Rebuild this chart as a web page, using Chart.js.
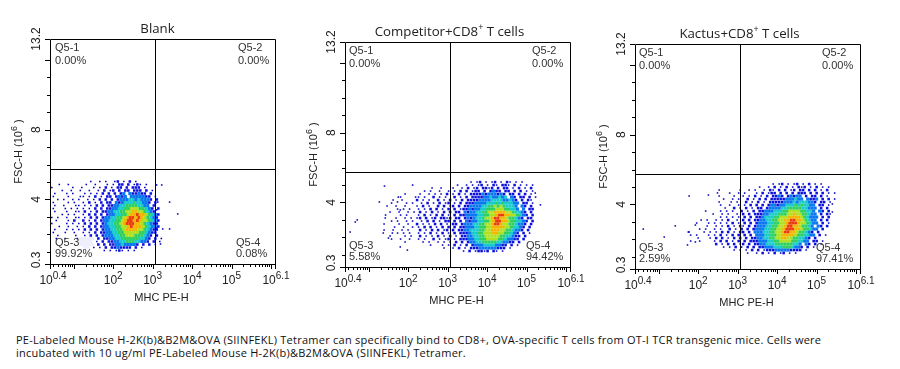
<!DOCTYPE html>
<html>
<head>
<meta charset="utf-8">
<title>MHC PE-H flow plots</title>
<script src="https://cdn.jsdelivr.net/npm/chart.js@4/dist/chart.umd.min.js"></script>
<style>
  html, body { margin: 0; padding: 0; background: #fff; }
  body { width: 900px; height: 369px; position: relative; overflow: hidden; }
  canvas { position: absolute; }
  .caption { position: absolute; left: 16px; top: 334px; font: 11px/12.5px "Open Sans", sans-serif; letter-spacing: 0.25px; color: #111; white-space: nowrap; }
</style>
</head>
<body>
<canvas id="blankChart" width="290" height="304" style="left:0;top:0"></canvas>
<canvas id="competitorChart" width="290" height="304" style="left:295px;top:3px"></canvas>
<canvas id="kactusChart" width="290" height="304" style="left:585px;top:5px"></canvas>
<div class="caption">
  <div>PE-Labeled Mouse H-2K(b)&amp;B2M&amp;OVA (SIINFEKL) Tetramer can specifically bind to CD8+, OVA-specific T cells from OT-I TCR transgenic mice. Cells were</div>
  <div>incubated with 10 ug/ml PE-Labeled Mouse H-2K(b)&amp;B2M&amp;OVA (SIINFEKL) Tetramer.</div>
</div>
<script>
// axis values
const xLabelExps = ['0.4', '2', '3', '4', '5', '6.1'];
const xMajorExps = [0.4, 1, 2, 3, 4, 5, 6, 6.1];
const yMajor = [4, 8, 12];
const yMinor = [1, 2, 3, 5, 6, 7, 9, 10, 11];
const yLabels = ['0.3', '4', '8', '13.2'];
const xRange = [0.4, 6.1];
const yRange = [0.3, 13.2];

// gates
const gateX = 1120;
const gateY = 5.75;

const panelTitles = [['Blank', '', ''], ['Competitor+CD8', '+', ' T cells'], ['Kactus+CD8', '+', ' T cells']];
const q1Pct = ['0.00%', '0.00%', '0.00%'];
const q2Pct = ['0.00%', '0.00%', '0.00%'];
const q3Pct = ['99.92%', '5.58%', '2.59%'];
const q4Pct = ['0.08%', '94.42%', '97.41%'];

// density, one string per FSC row, one char per MHC bin
// 1-8 = blue to red, a = the pale halo around the Q5-3 label
// left of | is the sparse tail, right of | starts at a fixed bin (the *Split value)
const binX = 0.076;
const binY = 0.172;

const blankStart = [0.37, 5.03];
const blankSplit = 10;
const blankGrid = [
  '|    1  1 1  12 1 2 1   ',
  '   1  1   |  1  1   1 1 22 2 121 1',
  ' 1      1 | 1   1 1 2 1 22 2 222 1 ',
  '    1  1  |1  1  1 2 12 2 22 222 2 1',
  '  1   1 1 |  1 1 1 2 2 2 23 322322 2',
  ' 1    1   1| 1 1 2 1 22 2323 3333322 1',
  '   1 1  1 |1  1 1 2 2 2 233344343332 2',
  ' 1    1 1 | 1 2 1 2 22 323444544332 2',
  '  1  1   1|1 1 1 2 2 22334455554433 2',
  ' 1   1 1 1| 1 1 2 2 2233445566655432 2',
  '1 1   1  1|1 2 1 2 223344556677665432',
  '1   1 1 1 | 1 2 2 2 233445567787765432',
  ' 1 1  1  1|1 1 2 2 2334455678878765432',
  '  1   1 2 | 2 1 2 23344556788787665432',
  ' 1    1 1 |1 2 2 2 2344556788877654322',
  '1  1  1  1| 1 2 2 23344556678777654332',
  '  1   1 1 |1 2 2 2 2334455677776654322',
  ' 1   1  1 | 1 1 2 2233445566666554322',
  '   1     1|  1 2 2 23334455666555432 2',
  '  1  1   1|aaaaa 2 2233445555554432 2 1',
  '          |aaaaa 1 2 22334455544332 2 1',
  '          |aaaaa 2 2 2233433332 2 2 1',
  '          |  aa 1 1 2 2232222 2 1',
  '          |        1 1 121 1 1'
];
const blankOutX = [3.1, 3.23, 3.43, 3.635, 3.13, 3.1, 3.43, 3.255, 3.1, 3.2];
const blankOutY = [4.83, 4.83, 3.85, 3.17, 3.85, 3.4, 2.31, 2.31, 2.36, 1.45];

const competitorStart = [1.39, 5.17];
const competitorSplit = 11;
const competitorGrid = [
  '|                  1 12 1 12 1 21 1 1',
  '         1|             1  1 1 12 1 21 221 2 1 1 1',
  '|     1  1   1  1 2 12 2212 2 22 1 2 1 2',
  '|  1 1  1  1 1 2 2 122 2 2322 22 2 2 1 1',
  '       1  | 1  1 1 1 2 1 2 1 222232333232 22 2 2 1',
  '     1    1|1 1  2 1 1  2 1 2 222233433434 32 22 2 1',
  '   1  1  |2 1 1  2 1 2 1 2 22223333444433432 2 21',
  '  1    1 1| 1 2 1 2 12 1 2 222333344454544433 22 1',
  ' 1  1  1 |1 2 1  2 2 12 2 223333445565654443 32 2',
  '    1 1 1|1 1 2 2 1 2 2 12232334455566655443 3 22',
  '  1  1  1 1| 2 1 2 1 2 2 22 323344556677776654432 2',
  '1    1 1  |1 2 1 2 2 1 2 22333344556678877665432 2',
  '    1  1 1 |12 2 12 2212 22 23234456678877655432 22',
  '  1 1  1 1| 1 2 2 1 22 2 2 323344556788776554432 2',
  '1    1  1 |2 1 1 2 2 1 22 2333445566788766554332 2',
  '   1  1  1|1 2 2 1 2 2 2 2233344556677776654432 2',
  '1  1  1 1 | 2 1 2 2 12 2 2233444556677766554332 2',
  '    1 1 1 |1 1 2 1 2 1 2 22234455666776655432 2 1',
  '  1    1 1| 2 1 1 2 1 2 1 22334455666665544322 2',
  '  1  1  1 |1 1  2 1 12 1 22233445566665543322 2',
  '       1  |  1 1  1 1 1 2 2 2334455555443322 2',
  '|    1   1 1 2 1 2 233344443322 2 1',
  '|         1  1 2 1 222333333222 1',
  '|               1 2 12212 21 1'
];
const competitorOutX = [1.4, 1.27, 1.73, 1.75, 0.66, 0.71, 0.53, 1.42, 1.37, 1.5, 1.6, 1.8, 1.8, 1.98, 5.35, 5.22];
const competitorOutY = [4.94, 4.03, 4.03, 4.31, 2.88, 3, 2.31, 3.11, 2.25, 1.96, 2.25, 3.57, 1.45, 1.27, 3.86, 4.54];

const kactusStart = [1.62, 5.17];
const kactusSplit = 10;
const kactusGrid = [
  '|                    1 12 1 12 1 2 1 1',
  '|               1  1 2 1 2 1 212 1 2 1 1',
  '|  1      1  1 1  1 21 2 2 12 22 2 2 1 2',
  '|     1  1 1   1 2 122 2 2 2 222 2 2 2 1 1',
  '  1       |  1    1  1 1 2 1 2 2232 23233 2 22 2 1',
  '|   1  1 1  2 1 2 2 22222333433 3223 2 2 1',
  '|  1   1 1  2 1 2 1 2222233343444332 22 1',
  '|  1  1  1 1 2 2 2 2332334445454433 22 1',
  '|    1  2 1 2 1 22 23333445555544333 2 2',
  '       1  |  1 1 1  2 1 2 2233344455666655443 32 2',
  '|1  1 1  1 2 2 222334445556676655433 2 21',
  '|  1 1 1 1 2 2 223444556667777654333 2 2',
  '      1 1 | 1 1 2  1 2 2 223344556677887765433 2 2',
  '    1   1 |1 1 1 2 1 2 2 233344556678887665433 2 1',
  '        1 | 1 1 2 1 21 2 23334455667887765543 32 2',
  '     1 1  |1 1  2 1 2 2 2333445566788877655433 2',
  '  1    1 1| 1 2 2 1 22 2 33344556678877655432 2',
  '  1 1   1 |1 2 1 2 2 2 2 33344556677776554433 2 1',
  '     1   1| 2 2 1 2 2 2 22334455667766554432 2',
  '  1  1    |1 2 2 1 2 2 22233344556666554433 22 1',
  '          | 2 1 2 2 12 2 2233444555555443 32 2 1',
  '          |   1 1 2 1 2 2 223334445554332 2 1',
  '          |       1 1 1 2 2 1222333332222 1',
  '          |           1  1 2 1 2 12 1 1'
];
const kactusOutX = [0.61, 1.42, 1.14, 1.75, 1.73, 1.93, 1.93, 5.4, 5.4, 2.26, 2.49];
const kactusOutY = [2.59, 2.77, 2.13, 2.42, 1.68, 2.82, 1.85, 4.03, 3.57, 4.54, 4.66];

const levelKeys = ['a', '1', '2', '3', '4', '5', '6', '7', '8'];
const levelColors = ['#eeeefc', '#0000c4', '#0c10dc', '#0a78ee', '#18cccc', '#30d060', '#b0e020', '#f4b400', '#e83c10'];
const levelRadius = [2.2, 1.1, 1.8, 2.2, 2.2, 2.2, 2.2, 2.2, 2.2];

const FONT = '"Liberation Sans", Arial, sans-serif';
const TITLE_FONT = '"Open Sans", sans-serif';
const INK = '#222';

function gridDatasets(grid, start, split, outX, outY) {
  const sets = levelKeys.map((key, i) => ({
    data: [],
    pointStyle: 'rect',
    pointRadius: levelRadius[i],
    pointBorderWidth: 0,
    backgroundColor: levelColors[i],
    showLine: false
  }));
  const addBins = (text, firstCol, r) => {
    for (let c = 0; c < text.length; c++) {
      const k = levelKeys.indexOf(text[c]);
      if (k >= 0) {
        // odd rows sit half a bin over, like a brick wall
        sets[k].data.push({ x: Math.pow(10, start[0] + (firstCol + c + (r % 2) / 2) * binX), y: start[1] - r * binY });
      }
    }
  };
  grid.forEach((row, r) => {
    const parts = row.split('|');
    addBins(parts[0], 0, r);
    addBins(parts[1], split, r);
  });
  outX.forEach((e, i) => sets[1].data.push({ x: Math.pow(10, e), y: outY[i] }));
  return sets;
}

// text with a raised middle part, starts at x
function supText(ctx, x, y, parts, size, supSize) {
  ctx.textAlign = 'left';
  ctx.font = size + 'px ' + ctx.baseFont;
  ctx.fillText(parts[0], x, y);
  let cur = x + ctx.measureText(parts[0]).width;
  if (parts[1]) {
    ctx.font = supSize + 'px ' + ctx.baseFont;
    ctx.fillText(parts[1], cur, y - size * 0.42);
    cur += ctx.measureText(parts[1]).width;
  }
  if (parts[2]) {
    ctx.font = size + 'px ' + ctx.baseFont;
    ctx.fillText(parts[2], cur, y);
  }
}

function supWidth(ctx, parts, size, supSize) {
  ctx.font = size + 'px ' + ctx.baseFont;
  let w = ctx.measureText(parts[0]).width + ctx.measureText(parts[2] || '').width;
  ctx.font = supSize + 'px ' + ctx.baseFont;
  return w + ctx.measureText(parts[1] || '').width;
}

const framePlugin = {
  id: 'frame',
  afterDatasetsDraw(chart, args, opts) {
    const ctx = chart.ctx;
    const a = chart.chartArea;
    const xs = chart.scales.x;
    const ys = chart.scales.y;
    const i = opts.panel;
    ctx.save();
    ctx.strokeStyle = '#000';
    ctx.lineWidth = 1;
    ctx.beginPath();
    ctx.rect(a.left + 0.5, a.top + 0.5, a.right - a.left, a.bottom - a.top);
    // quadrant gates
    const gx = Math.round(xs.getPixelForValue(gateX)) + 0.5;
    const gy = Math.round(ys.getPixelForValue(gateY)) + 0.5;
    ctx.moveTo(gx, a.top);
    ctx.lineTo(gx, a.bottom);
    ctx.moveTo(a.left, gy);
    ctx.lineTo(a.right, gy);
    // x ticks
    for (let d = 0; d <= 6; d++) {
      for (let m = 2; m <= 9; m++) {
        const v = m * Math.pow(10, d);
        if (v < xs.min || v > xs.max) continue;
        const px = Math.round(xs.getPixelForValue(v)) + 0.5;
        ctx.moveTo(px, a.bottom);
        ctx.lineTo(px, a.bottom + 3);
      }
    }
    xMajorExps.forEach(e => {
      const px = Math.round(xs.getPixelForValue(Math.pow(10, e))) + 0.5;
      ctx.moveTo(px, a.bottom);
      ctx.lineTo(px, a.bottom + 5);
    });
    // y ticks
    yMinor.forEach(v => {
      const py = Math.round(ys.getPixelForValue(v)) + 0.5;
      ctx.moveTo(a.left, py);
      ctx.lineTo(a.left - 3, py);
    });
    yMajor.concat(yRange).forEach(v => {
      const py = Math.round(ys.getPixelForValue(v)) + 0.5;
      ctx.moveTo(a.left, py);
      ctx.lineTo(a.left - 5, py);
    });
    ctx.stroke();

    ctx.fillStyle = INK;
    ctx.textBaseline = 'alphabetic';
    ctx.baseFont = FONT;
    // x tick labels
    xLabelExps.forEach(e => {
      const px = xs.getPixelForValue(Math.pow(10, parseFloat(e)));
      const w = supWidth(ctx, ['10', e], 12, 10);
      const shift = e === '0.4' ? 3 : (e === '6.1' ? 1 : 0);
      supText(ctx, px - w / 2 + shift, a.bottom + 20, ['10', e], 12, 10);
    });
    // y tick labels, rotated
    ctx.font = '12px ' + FONT;
    ctx.textAlign = 'center';
    yLabels.forEach(l => {
      const py = ys.getPixelForValue(parseFloat(l));
      ctx.save();
      ctx.translate(a.left - 10, py);
      ctx.rotate(-Math.PI / 2);
      ctx.fillText(l, l === '0.3' ? 4 : 0, 0);
      ctx.restore();
    });
    // axis titles
    ctx.font = '11px ' + FONT;
    ctx.fillText('MHC PE-H', (a.left + a.right) / 2 - 1, a.bottom + 37);
    ctx.save();
    ctx.translate(a.left - 28, (a.top + a.bottom) / 2);
    ctx.rotate(-Math.PI / 2);
    const yParts = ['FSC-H (10', '6', ' )'];
    const yw = supWidth(ctx, yParts, 11, 9);
    supText(ctx, -yw / 2, 0, yParts, 11, 9);
    ctx.restore();
    // panel title
    ctx.baseFont = TITLE_FONT;
    const t = panelTitles[i];
    const tw = supWidth(ctx, t, 13.25, 9);
    supText(ctx, gx + opts.titleShift - tw / 2, a.top - 6, t, 13.25, 9);
    // quadrant labels
    ctx.baseFont = FONT;
    ctx.textAlign = 'left';
    ctx.font = '11px ' + FONT;
    ctx.fillStyle = '#333';
    const rx2 = a.left + opts.q2x;
    const rx4 = a.left + opts.q4x;
    ctx.fillText('Q5-1', a.left + opts.q1x, a.top + 12);
    ctx.fillText(q1Pct[i], a.left + opts.q1x, a.top + 25);
    ctx.fillText('Q5-2', rx2, a.top + 12);
    ctx.fillText(q2Pct[i], rx2, a.top + 25);
    ctx.fillText('Q5-3', a.left + opts.q1x, a.bottom - 18);
    ctx.fillText(q3Pct[i], a.left + opts.q1x, a.bottom - 7);
    ctx.fillText('Q5-4', rx4, a.bottom - 18);
    ctx.fillText(q4Pct[i], rx4, a.bottom - 7);
    ctx.restore();
  }
};

function renderPanel(id, panel, grid, start, split, outX, outY, layout) {
  const ctx = document.getElementById(id).getContext('2d');
  new Chart(ctx, {
    type: 'scatter',
    data: { datasets: gridDatasets(grid, start, split, outX, outY) },
    plugins: [framePlugin],
    options: {
      responsive: false,
      animation: false,
      layout: { padding: { top: 39, right: 15, left: 0, bottom: 0 } },
      plugins: {
        legend: { display: false },
        tooltip: { enabled: false },
        frame: Object.assign({ panel: panel }, layout)
      },
      scales: {
        x: {
          type: 'logarithmic',
          min: Math.pow(10, xRange[0]),
          max: Math.pow(10, xRange[1]),
          ticks: { display: false },
          grid: { display: false },
          border: { display: false },
          afterFit: s => { s.height = 40; }
        },
        y: {
          type: 'linear',
          min: yRange[0],
          max: yRange[1],
          ticks: { display: false },
          grid: { display: false },
          border: { display: false },
          afterFit: s => { s.width = 50; }
        }
      }
    }
  });
}

renderPanel('blankChart', 0, blankGrid, blankStart, blankSplit, blankOutX, blankOutY, { q1x: 5, q2x: 188, q4x: 186, titleShift: 2 });
renderPanel('competitorChart', 1, competitorGrid, competitorStart, competitorSplit, competitorOutX, competitorOutY, { q1x: 4, q2x: 187, q4x: 181, titleShift: -1 });
renderPanel('kactusChart', 2, kactusGrid, kactusStart, kactusSplit, kactusOutX, kactusOutY, { q1x: 4, q2x: 187, q4x: 181, titleShift: -1 });
</script>
</body>
</html>
